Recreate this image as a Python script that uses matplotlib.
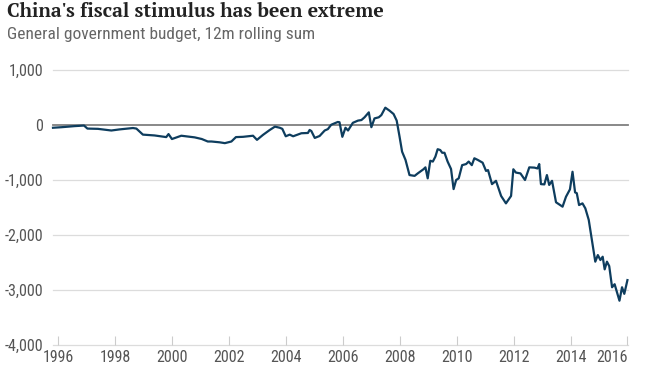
import matplotlib
matplotlib.use("Agg")
import matplotlib.pyplot as plt
from matplotlib.ticker import FuncFormatter

# Data (fractional year, value)
dates = [
    1995.81, 1996.11, 1996.58, 1996.90, 1997.02, 1997.39, 1997.86, 1998.15, 1998.62, 1998.74,
    1998.97, 1999.38, 1999.79, 1999.87, 1999.99, 2000.32, 2000.79, 2001.04, 2001.25, 2001.38,
    2001.67, 2001.85, 2002.08, 2002.24, 2002.49, 2002.84, 2002.98, 2003.19, 2003.43, 2003.61,
    2003.78, 2003.87, 2003.99, 2004.13, 2004.25, 2004.54, 2004.77, 2004.83, 2004.89, 2005.01,
    2005.18, 2005.36, 2005.47, 2005.59, 2005.71, 2005.82, 2005.88, 2005.98, 2006.09, 2006.18,
    2006.35, 2006.53, 2006.65, 2006.76, 2006.91, 2007.00, 2007.11, 2007.26, 2007.35, 2007.49,
    2007.64, 2007.78, 2007.89, 2007.99, 2008.08, 2008.20, 2008.28, 2008.34, 2008.52, 2008.63,
    2008.75, 2008.83, 2008.90, 2008.98, 2009.07, 2009.16, 2009.25, 2009.33, 2009.42, 2009.49,
    2009.57, 2009.68, 2009.80, 2009.89, 2009.98, 2010.07, 2010.19, 2010.33, 2010.42, 2010.53,
    2010.62, 2010.74, 2010.91, 2011.03, 2011.10, 2011.24, 2011.38, 2011.56, 2011.73, 2011.91,
    2011.99, 2012.08, 2012.24, 2012.40, 2012.55, 2012.73, 2012.84, 2012.90, 2012.96, 2013.08,
    2013.17, 2013.25, 2013.35, 2013.49, 2013.72, 2013.84, 2013.98, 2014.07, 2014.16, 2014.22,
    2014.30, 2014.42, 2014.52, 2014.64, 2014.75, 2014.87, 2014.96, 2015.05, 2015.13, 2015.20,
    2015.28, 2015.36, 2015.46, 2015.55, 2015.72, 2015.81, 2015.89, 2016.00,
]
budget = [
    -50, -40, -20, -10, -65, -70, -100, -80, -55, -65,
    -175, -190, -220, -165, -255, -195, -225, -255, -300, -300,
    -315, -330, -300, -220, -215, -195, -270, -180, -90, -30,
    -50, -70, -205, -175, -205, -150, -145, -90, -110, -235,
    -200, -100, -75, 5, 30, 55, 50, -215, -50, -100,
    40, 80, 90, 140, 230, -40, 120, 140, 180, 315,
    260, 200, 80, -210, -485, -635, -790, -910, -925, -880,
    -835, -805, -770, -970, -650, -665, -575, -440, -455, -505,
    -505, -665, -800, -1165, -1000, -970, -730, -710, -665, -730,
    -605, -635, -685, -835, -820, -1075, -1015, -1290, -1425, -1290,
    -805, -865, -880, -1000, -770, -775, -790, -710, -1075, -1080,
    -910, -1090, -1015, -1405, -1485, -1305, -1170, -850, -1225, -1240,
    -1455, -1425, -1515, -1725, -2090, -2485, -2365, -2455, -2395, -2625,
    -2485, -2565, -2950, -2895, -3195, -2950, -3070, -2820,
]
x_ticks = [1996, 1998, 2000, 2002, 2004, 2006, 2008, 2010, 2012, 2014, 2016]
y_ticks = [1000, 0, -1000, -2000, -3000, -4000]

title = "China's fiscal stimulus has been extreme"
subtitle = "General government budget, 12m rolling sum"

W, H = 647, 382
fig = plt.figure(figsize=(W / 100, H / 100), dpi=100)
fig.patch.set_facecolor("white")

left_px, right_px, top_px, bottom_px = 53, 628, 70, 345
ax = fig.add_axes([left_px / W, 1 - bottom_px / H,
                   (right_px - left_px) / W, (bottom_px - top_px) / H])

tick_font = ["Roboto Condensed", "PT Sans Narrow", "DejaVu Sans"]
title_font = ["PT Serif", "Noto Serif", "DejaVu Serif"]

for v in y_ticks:
    if v == 0:
        continue
    ax.axhline(v, color="#dcdcdc", lw=0.9, zorder=1, clip_on=False)
ax.axhline(0, color="#7f7f7f", lw=1.3, zorder=2, clip_on=False)

ax.plot(dates, budget, color="#0e3d5e", lw=1.6, zorder=3,
        solid_joinstyle="round", clip_on=False)

ax.set_xlim(1995.81, 2016.02)
ax.set_ylim(-4000, 1000)
ax.set_xticks(x_ticks)
ax.set_yticks(y_ticks)
ax.yaxis.set_major_formatter(FuncFormatter(lambda v, p: f"{int(v):,}"))

for s in ax.spines.values():
    s.set_visible(False)
ax.tick_params(axis="x", direction="in", length=6.5, width=0.8, color="#cccccc",
               pad=3.5, labelsize=11.5, labelcolor="#555555")
ax.tick_params(axis="y", length=0, pad=7, labelsize=11.5, labelcolor="#555555")
for lab in ax.get_xticklabels() + ax.get_yticklabels():
    lab.set_family(tick_font)
ax.get_xticklabels()[-1].set_horizontalalignment("right")
ax.set_facecolor("none")

fig.text(7 / W, 1 - 17 / H, title, fontsize=14, fontweight="bold",
         family=title_font, color="#222222", ha="left", va="baseline")
fig.text(7 / W, 1 - 39.5 / H, subtitle, fontsize=12.5,
         family=tick_font, color="#666666", ha="left", va="baseline")

fig.savefig("out.png", dpi=100)
